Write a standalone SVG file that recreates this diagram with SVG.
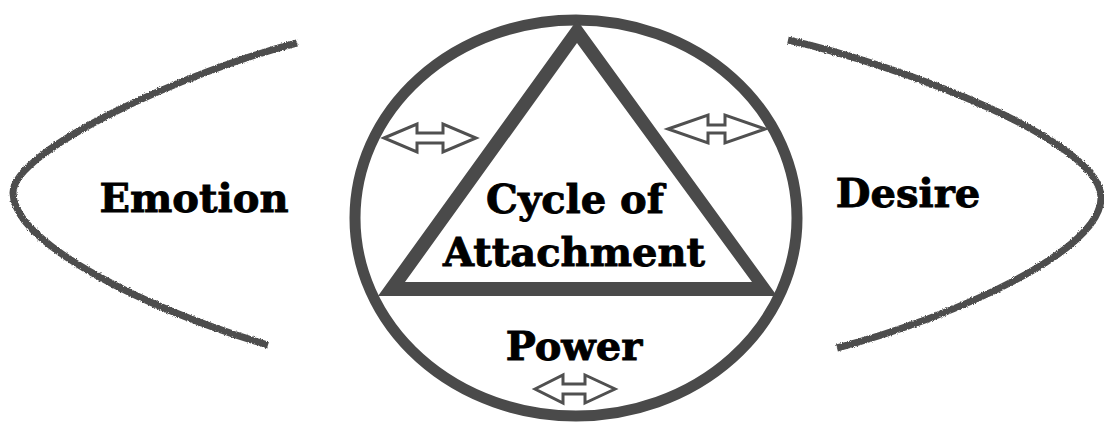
<svg xmlns="http://www.w3.org/2000/svg" width="1104" height="425" viewBox="0 0 1104 425">
  <style>
    .lbl { font-family: "DejaVu Serif", "Liberation Serif", serif; font-weight: bold; font-size: 40px; fill: #000; stroke: #000; stroke-width: 0.9; text-anchor: middle; }
    .chalk { fill: none; stroke: #4d4d4d; stroke-width: 7; stroke-linecap: butt; filter: url(#rough); }
    .ring { fill: none; stroke: #4a4a4a; stroke-width: 11; }
    .tri { fill: #4a4a4a; fill-rule: evenodd; }
    .arr { fill: #fff; stroke: #505050; stroke-width: 3; stroke-linejoin: miter; }
  </style>
  <defs>
    <filter id="rough" x="-5%" y="-5%" width="110%" height="110%">
      <feTurbulence type="fractalNoise" baseFrequency="1.2" numOctaves="2" seed="3" result="n"/>
      <feDisplacementMap in="SourceGraphic" in2="n" scale="3" xChannelSelector="R" yChannelSelector="G"/>
    </filter>
  </defs>
  <rect width="1104" height="425" fill="#fff"/>

  <g id="emotion">
    <path class="chalk" d="M297,43 C190,70 12,150 13,193 C14,245 150,310 268,345"/>
    <text class="lbl" x="194" y="212">Emotion</text>
  </g>

  <g id="desire">
    <path class="chalk" d="M788,40 C900,65 1100,140 1101,197 C1102,250 960,315 837,348"/>
    <text class="lbl" x="908" y="207">Desire</text>
  </g>

  <g id="power-circle">
    <ellipse class="ring" cx="576" cy="218" rx="221" ry="198"/>
    <text class="lbl" x="574" y="360">Power</text>
  </g>

  <g id="cycle-of-attachment">
    <path class="tri" d="M577,20 L378,296 L777,296 Z M577,43 L405,282 L752,282 Z"/>
    <text class="lbl" x="575" y="213">Cycle of</text>
    <text class="lbl" x="574" y="266">Attachment</text>
  </g>

  <g id="connectors">
    <path class="arr" d="M384,138 L417,124 L417,133 L443,133 L443,124 L476,138 L443,152 L443,143 L417,143 L417,152 Z"/>
    <path class="arr" d="M668,129 L708,115 L708,125 L725,125 L725,115 L765,129 L725,143 L725,133 L708,133 L708,143 Z"/>
    <path class="arr" d="M535,389 L563,375 L563,384 L585,384 L585,375 L615,389 L585,403 L585,394 L563,394 L563,403 Z"/>
  </g>
</svg>
